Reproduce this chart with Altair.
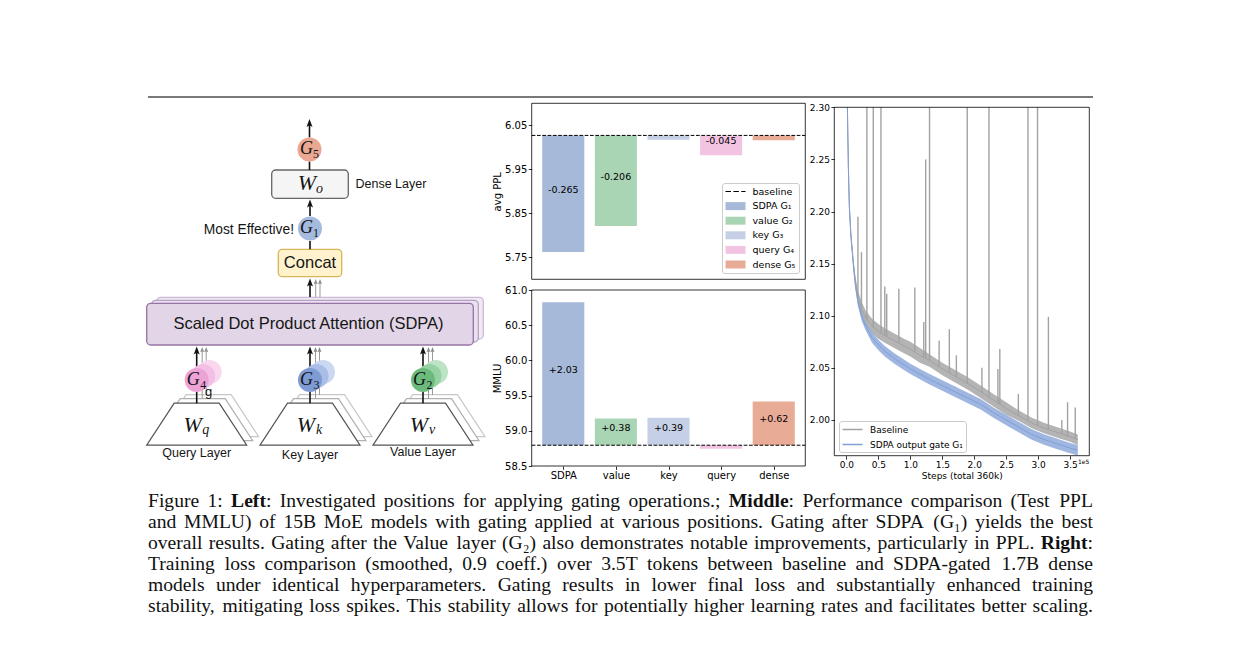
import glob
import os
import struct

import altair as alt
import pandas as pd

# =============================================================================
# Data: middle panels (test PPL / MMLU for gating positions)
# =============================================================================
positions = ["SDPA", "value", "key", "query", "dense"]
legend_names = ["baseline", "SDPA G₁", "value G₂", "key G₃", "query G₄", "dense G₅"]
bar_colors = ["#a6b9d8", "#aad5b5", "#c5cfe5", "#f3c4e2", "#e8ab96"]
bar_x_domain = [-0.6, 4.6]

ppl_baseline = 6.027
ppl_delta = [-0.265, -0.206, -0.010, -0.045, -0.011]
ppl_text = ["-0.265", "-0.206", "", "-0.045", ""]
ppl_ticks = [5.75, 5.85, 5.95, 6.05]
ppl_domain = [5.70, 6.10]

mmlu_baseline = 58.795
mmlu_delta = [2.03, 0.38, 0.39, -0.05, 0.62]
mmlu_text = ["+2.03", "+0.38", "+0.39", "", "+0.62"]
mmlu_ticks = [58.5, 59.0, 59.5, 60.0, 60.5, 61.0]
mmlu_domain = [58.5, 61.0]

# =============================================================================
# Data: right panel (training loss, steps in units of 1e5)
# =============================================================================
series_names = ["Baseline", "SDPA output gate G₁"]
series_colors = ["#a2a2a2", "#819fd6"]
loss_x_domain = [-0.19, 3.80]
loss_y_domain = [1.9657, 2.30]
step_ticks = [0.0, 0.5, 1.0, 1.5, 2.0, 2.5, 3.0, 3.5]
loss_ticks = [2.00, 2.05, 2.10, 2.15, 2.20, 2.25, 2.30]

loss_steps = [0.015, 0.03, 0.045, 0.07, 0.11, 0.14, 0.18, 0.24, 0.30, 0.40,
              0.50, 0.60, 0.75, 0.90, 1.00, 1.15, 1.30, 1.50, 1.70, 1.90,
              2.10, 2.30, 2.50, 2.70, 2.90, 3.10, 3.30, 3.50, 3.62]
base_mid = [2.300, 2.243, 2.206, 2.178, 2.150, 2.133, 2.118, 2.106, 2.098, 2.090,
            2.085, 2.081, 2.076, 2.071, 2.068, 2.062, 2.057, 2.049, 2.042, 2.035,
            2.027, 2.019, 2.011, 2.004, 1.997, 1.992, 1.988, 1.984, 1.981]
base_hi = [2.302, 2.246, 2.209, 2.181, 2.154, 2.138, 2.124, 2.113, 2.105, 2.097,
           2.092, 2.088, 2.083, 2.078, 2.075, 2.069, 2.063, 2.055, 2.048, 2.041,
           2.033, 2.025, 2.017, 2.009, 2.002, 1.997, 1.993, 1.989, 1.986]
base_lo = [2.298, 2.240, 2.203, 2.175, 2.146, 2.128, 2.112, 2.099, 2.091, 2.083,
           2.078, 2.074, 2.069, 2.064, 2.061, 2.055, 2.051, 2.043, 2.036, 2.029,
           2.021, 2.013, 2.005, 1.999, 1.992, 1.987, 1.983, 1.979, 1.976]
gate_mid = [2.300, 2.243, 2.205, 2.176, 2.147, 2.129, 2.113, 2.099, 2.090, 2.079,
            2.072, 2.066, 2.059, 2.053, 2.049, 2.044, 2.039, 2.033, 2.027, 2.021,
            2.015, 2.007, 2.000, 1.993, 1.986, 1.981, 1.977, 1.973, 1.971]
gate_hi = [2.302, 2.246, 2.208, 2.179, 2.150, 2.132, 2.117, 2.103, 2.094, 2.084,
           2.077, 2.071, 2.064, 2.058, 2.054, 2.049, 2.044, 2.038, 2.032, 2.026,
           2.020, 2.012, 2.005, 1.998, 1.991, 1.986, 1.982, 1.978, 1.976]
gate_lo = [2.298, 2.240, 2.202, 2.173, 2.144, 2.126, 2.109, 2.095, 2.086, 2.074,
           2.067, 2.061, 2.054, 2.048, 2.044, 2.039, 2.034, 2.028, 2.022, 2.016,
           2.010, 2.002, 1.995, 1.988, 1.981, 1.976, 1.972, 1.968, 1.966]

spike_steps = [0.18, 0.235, 0.32, 0.42, 0.54, 0.60, 0.63, 0.82, 1.07, 1.21,
               1.24, 1.30, 1.45, 1.61, 1.72, 1.89, 2.12, 2.23, 2.37, 2.40,
               2.69, 2.84, 2.99, 3.16, 3.37, 3.46, 3.58]
spike_base = [2.118, 2.107, 2.096, 2.089, 2.083, 2.081, 2.080, 2.074, 2.065, 2.060,
              2.059, 2.057, 2.051, 2.045, 2.041, 2.035, 2.026, 2.022, 2.016, 2.015,
              2.004, 1.999, 1.995, 1.991, 1.987, 1.984, 1.982]
spike_peak = [2.195, 2.161, 2.35, 2.35, 2.35, 2.128, 2.121, 2.126, 2.127, 2.094,
              2.250, 2.35, 2.076, 2.087, 2.062, 2.35, 2.050, 2.35, 2.049, 2.068,
              2.025, 2.35, 2.35, 2.099, 2.000, 2.017, 2.012]

# =============================================================================
# Left schematic (drawing coordinates = page pixels of the figure)
# =============================================================================
col_x = [196.7, 310.0, 423.0]
col_gate_sub = ["4", "3", "2"]
col_w_sub = ["q", "k", "v"]
col_layer_name = ["Query Layer", "Key Layer", "Value Layer"]
col_layer_y = [452.5, 454.5, 452.0]
col_fill = ["#eea3d7", "#7f9bd3", "#6cba7c"]
col_ghost_fill = [["#f9d7ee", "#f3bfe4"], ["#cbd8f1", "#a9bde6"], ["#bce4c4", "#95d1a2"]]

# =============================================================================
# Caption text
# =============================================================================
caption_lines = [
    "Figure 1: **Left**: Investigated positions for applying gating operations.; **Middle**: Performance comparison (Test PPL",
    "and MMLU) of 15B MoE models with gating applied at various positions. Gating after SDPA (G₁) yields the best",
    "overall results. Gating after the Value layer (G₂) also demonstrates notable improvements, particularly in PPL. **Right**:",
    "Training loss comparison (smoothed, 0.9 coeff.)  over 3.5T tokens between baseline and SDPA-gated 1.7B dense",
    "models under identical hyperparameters. Gating results in lower final loss and substantially enhanced training",
    "stability, mitigating loss spikes. This stability allows for potentially higher learning rates and facilitates better scaling.",
]

# =============================================================================
# Layout
# =============================================================================
M = 8
CW, CH = 1225, 632
PPL_BOX = (531.7, 103.3, 805.3, 279.3)
MMLU_BOX = (531.7, 290.0, 805.3, 466.0)
LOSS_BOX = (834.3, 107.3, 1089.3, 455.7)


def xs(domain, box, **kw):
    return alt.Scale(domain=domain, range=[box[0] - M, box[2] - M], nice=False, zero=False, **kw)


def ys(domain, box, **kw):
    return alt.Scale(domain=domain, range=[box[3] - M, box[1] - M], nice=False, zero=False, **kw)


DXS = alt.Scale(domain=[M, M + CW], range=[0, CW], nice=False, zero=False)
DYS = alt.Scale(domain=[M, M + CH], range=[0, CH], nice=False, zero=False)


def dx(f):
    return alt.X(f, type="quantitative", scale=DXS, axis=None)


def dy(f):
    return alt.Y(f, type="quantitative", scale=DYS, axis=None)


AX = dict(domain=False, grid=False, tickSize=3.4, tickWidth=0.8, tickColor="black",
          labelColor="black", labelFont="DejaVu Sans", labelPadding=1.5,
          labelFlush=False, labelOverlap=False, titleFont="DejaVu Sans",
          titleFontWeight="normal", titleColor="black")

units = []

# ---------------------------------------------------------------- top rule
units.append(
    alt.Chart(pd.DataFrame({"x0": [148.0], "x1": [1093.0], "y": [97.0]}))
    .mark_rule(color="#4d4d4d", strokeWidth=1.6)
    .encode(x=dx("x0"), x2="x1:Q", y=dy("y"))
)

# ---------------------------------------------------------------- schematic
boxes = pd.DataFrame({
    "x0": [156.7, 151.7, 146.7, 271.7, 278.3],
    "y0": [297.3, 300.3, 303.3, 170.0, 249.3],
    "x1": [483.3, 478.3, 473.3, 348.3, 341.7],
    "y1": [339.0, 342.0, 345.0, 198.3, 276.7],
    "fill": ["#f1eaf5", "#e9e0f0", "#e1d5e7", "#f5f5f5", "#fff2cc"],
    "stroke": ["#cbb9d6", "#b7a1c6", "#9673a6", "#666666", "#d6b656"],
})
units.append(
    alt.Chart(boxes).mark_rect(cornerRadius=4, strokeWidth=1.3)
    .encode(x=dx("x0"), x2="x1:Q", y=dy("y0"), y2="y1:Q",
            fill=alt.Fill("fill:N", scale=None), stroke=alt.Stroke("stroke:N", scale=None))
)

TRAP = "M-1,0.42L1,0.42L0.45,-0.42L-0.45,-0.42Z"
trap_rows = []
for (ox, oy, stc) in [(12.0, -8.5, "#c8c8c8"), (6.0, -4.5, "#b0b0b0"), (0.0, 0.0, "#555555")]:
    for c in col_x:
        trap_rows.append({"x": c + ox, "y": 424.2 + oy, "stroke": stc})
units.append(
    alt.Chart(pd.DataFrame(trap_rows))
    .mark_point(shape=TRAP, filled=True, fill="white", size=10000, opacity=1, strokeWidth=1.2)
    .encode(x=dx("x"), y=dy("y"), stroke=alt.Stroke("stroke:N", scale=None))
)

seg_rows = []
for c in col_x:
    for ox, ytop in [(5.5, 399.0), (9.5, 395.0)]:
        seg_rows.append({"x0": c + ox, "y0": ytop, "x1": c + ox, "y1": 351.0, "c": "#9a9a9a", "w": 1.0})
for ox in [5.7, 10.0]:
    seg_rows.append({"x0": 310.0 + ox, "y0": 297.0, "x1": 310.0 + ox, "y1": 283.0, "c": "#9a9a9a", "w": 1.0})
for c in col_x:
    seg_rows.append({"x0": c, "y0": 403.3, "x1": c, "y1": 392.0, "c": "#111111", "w": 1.6})
    seg_rows.append({"x0": c, "y0": 368.0, "x1": c, "y1": 351.0, "c": "#111111", "w": 1.6})
for (xa, ya, yb) in [(309.5, 137.5, 124.0), (309.5, 161.5, 170.0), (310.0, 216.0, 204.0),
                     (310.0, 241.0, 249.3), (310.0, 297.0, 283.0)]:
    seg_rows.append({"x0": xa, "y0": ya, "x1": xa, "y1": yb, "c": "#111111", "w": 1.6})
units.append(
    alt.Chart(pd.DataFrame(seg_rows)).mark_rule()
    .encode(x=dx("x0"), x2="x1:Q", y=dy("y0"), y2="y1:Q",
            color=alt.Color("c:N", scale=None), strokeWidth=alt.StrokeWidth("w:Q", scale=None))
)

circ_rows = []
for c, gf in zip(col_x, col_ghost_fill):
    circ_rows.append({"x": c + 13.0, "y": 372.0, "f": gf[0]})
    circ_rows.append({"x": c + 6.5, "y": 376.0, "f": gf[1]})
for c, f in zip(col_x, col_fill):
    circ_rows.append({"x": c, "y": 380.0, "f": f})
circ_rows.append({"x": 309.5, "y": 149.5, "f": "#eaa892"})
circ_rows.append({"x": 310.0, "y": 228.5, "f": "#a5badf"})
units.append(
    alt.Chart(pd.DataFrame(circ_rows)).mark_point(shape="circle", filled=True, opacity=1, size=576)
    .encode(x=dx("x"), y=dy("y"), color=alt.Color("f:N", scale=None))
)

ARROW = "M0,0L0.6,1.6L0,1.25L-0.6,1.6Z"
arrow_rows = [{"x": 309.5, "y": 119.0, "c": "#111111", "s": 100},
              {"x": 310.0, "y": 199.5, "c": "#111111", "s": 100},
              {"x": 310.0, "y": 278.5, "c": "#111111", "s": 100},
              {"x": 315.7, "y": 279.0, "c": "#8a8a8a", "s": 45},
              {"x": 320.0, "y": 279.0, "c": "#8a8a8a", "s": 45}]
for c in col_x:
    arrow_rows.append({"x": c, "y": 346.5, "c": "#111111", "s": 100})
    arrow_rows.append({"x": c + 5.5, "y": 347.0, "c": "#8a8a8a", "s": 45})
    arrow_rows.append({"x": c + 9.5, "y": 347.0, "c": "#8a8a8a", "s": 45})
units.append(
    alt.Chart(pd.DataFrame(arrow_rows)).mark_point(shape=ARROW, filled=True, opacity=1)
    .encode(x=dx("x"), y=dy("y"), color=alt.Color("c:N", scale=None), size=alt.Size("s:Q", scale=None))
)

sans_center = [
    {"x": 310.0, "y": 263.0, "t": "Concat", "s": 16.5},
    {"x": 308.5, "y": 324.0, "t": "Scaled Dot Product Attention (SDPA)", "s": 16.5},
    {"x": 208.5, "y": 391.5, "t": "g", "s": 13.0},
]
for c, name, yy in zip(col_x, col_layer_name, col_layer_y):
    sans_center.append({"x": c, "y": yy, "t": name, "s": 12.5})


def text_unit(rows, align, font="Liberation Sans", style="normal"):
    return (alt.Chart(pd.DataFrame(rows))
            .mark_text(align=align, baseline="middle", font=font, fontStyle=style, color="#151515")
            .encode(x=dx("x"), y=dy("y"), text="t:N", size=alt.Size("s:Q", scale=None)))


units.append(text_unit(sans_center, "center"))
units.append(text_unit([{"x": 355.5, "y": 184.0, "t": "Dense Layer", "s": 12.5}], "left"))
units.append(text_unit([{"x": 294.0, "y": 229.5, "t": "Most Effective!", "s": 13.8}], "right"))

math_main = [{"x": 306.5, "y": 149.0, "t": "G", "s": 18.0},
             {"x": 306.5, "y": 228.0, "t": "G", "s": 18.0},
             {"x": 307.0, "y": 182.5, "t": "W", "s": 22.0}]
math_sub_digit = [{"x": 316.0, "y": 154.0, "t": "5", "s": 12.0},
                  {"x": 316.0, "y": 233.0, "t": "1", "s": 12.0}]
math_sub_letter = [{"x": 319.5, "y": 188.5, "t": "o", "s": 14.0}]
for c, g, w in zip(col_x, col_gate_sub, col_w_sub):
    math_main.append({"x": c - 3.5, "y": 379.5, "t": "G", "s": 18.0})
    math_sub_digit.append({"x": c + 6.5, "y": 384.5, "t": g, "s": 12.0})
    math_main.append({"x": c - 4.0, "y": 424.5, "t": "W", "s": 22.0})
    math_sub_letter.append({"x": c + 9.0, "y": 430.0, "t": w, "s": 14.0})
units.append(text_unit(math_main, "center", font="Liberation Serif", style="italic"))
units.append(text_unit(math_sub_digit, "center", font="Liberation Serif"))
units.append(text_unit(math_sub_letter, "center", font="Liberation Serif", style="italic"))

# ---------------------------------------------------------------- caption
TIMES = {" ": 250, "!": 333, "(": 333, ")": 333, ",": 250, "-": 333, ".": 250, ":": 278, ";": 278}
TIMES.update({d: 500 for d in "0123456789"})
TIMES.update(dict(zip("ABCDEFGHIJKLMNOPQRSTUVWXYZ",
                      [722, 667, 667, 722, 611, 556, 722, 722, 333, 389, 722, 611, 889,
                       722, 722, 556, 722, 667, 556, 611, 722, 722, 944, 722, 722, 611])))
TIMES.update(dict(zip("abcdefghijklmnopqrstuvwxyz",
                      [444, 500, 444, 500, 444, 333, 500, 500, 278, 278, 500, 278, 778,
                       500, 500, 500, 500, 333, 389, 278, 500, 500, 722, 500, 500, 444])))


def find_font(name):
    pats = ["/usr/share/fonts/**/" + name, "/usr/local/share/fonts/**/" + name,
            os.path.expanduser("~/.fonts/**/" + name), os.path.expanduser("~/.local/share/fonts/**/" + name)]
    for p in pats:
        hits = glob.glob(p, recursive=True)
        if hits:
            return hits[0]
    return None


def ttf_measure(path):
    with open(path, "rb") as fh:
        data = fh.read()
    n_tab = struct.unpack(">H", data[4:6])[0]
    tabs = {}
    for k in range(n_tab):
        rec = data[12 + 16 * k: 28 + 16 * k]
        tabs[rec[:4].decode("latin-1")] = struct.unpack(">I", rec[8:12])[0]
    upem = struct.unpack(">H", data[tabs["head"] + 18: tabs["head"] + 20])[0]
    n_hm = struct.unpack(">H", data[tabs["hhea"] + 34: tabs["hhea"] + 36])[0]
    hm = tabs["hmtx"]
    adv = [struct.unpack(">H", data[hm + 4 * g: hm + 4 * g + 2])[0] for g in range(n_hm)]
    cm = tabs["cmap"]
    n_sub = struct.unpack(">H", data[cm + 2: cm + 4])[0]
    sub = None
    for k in range(n_sub):
        pid, eid, off = struct.unpack(">HHI", data[cm + 4 + 8 * k: cm + 12 + 8 * k])
        fmt = struct.unpack(">H", data[cm + off: cm + off + 2])[0]
        if fmt == 4 and (sub is None or (pid, eid) == (3, 1)):
            sub = cm + off
    seg2 = struct.unpack(">H", data[sub + 6: sub + 8])[0]
    ns = seg2 // 2
    ends = struct.unpack(">%dH" % ns, data[sub + 14: sub + 14 + seg2])
    starts = struct.unpack(">%dH" % ns, data[sub + 16 + seg2: sub + 16 + 2 * seg2])
    deltas = struct.unpack(">%dh" % ns, data[sub + 16 + 2 * seg2: sub + 16 + 3 * seg2])
    rbase = sub + 16 + 3 * seg2
    ros = struct.unpack(">%dH" % ns, data[rbase: rbase + seg2])

    def glyph(cp):
        for k in range(ns):
            if ends[k] >= cp:
                if starts[k] > cp:
                    return 0
                if ros[k] == 0:
                    return (cp + deltas[k]) & 0xFFFF
                addr = rbase + 2 * k + ros[k] + 2 * (cp - starts[k])
                g = struct.unpack(">H", data[addr: addr + 2])[0]
                return (g + deltas[k]) & 0xFFFF if g else 0
        return 0

    def width(s):
        tot = 0.0
        for ch in s:
            g = glyph(ord(ch))
            tot += 0.45 * upem if g == 0 else adv[min(g, n_hm - 1)]
        return tot / upem
    return width


def make_measure(fname, bold):
    path = find_font(fname)
    if path:
        try:
            return ttf_measure(path)
        except Exception:
            pass
    k = 1.04 if bold else 1.0
    return lambda s: sum(TIMES.get(ch, 450) for ch in s) * k / 1000.0


meas = {False: make_measure("LiberationSerif-Regular.ttf", False),
        True: make_measure("LiberationSerif-Bold.ttf", True)}

CAP_L, CAP_R = 148.0, 1093.0
CAP_BASE, CAP_LEAD = 507.0, 21.0
parsed = []
for line in caption_lines:
    toks = []
    for tok in line.split():
        parts = tok.split("**")
        toks.append([(p, k % 2 == 1) for k, p in enumerate(parts) if p])
    parsed.append(toks)


def natural(toks):
    return (sum(meas[b](p) for t in toks for (p, b) in t) + (len(toks) - 1) * meas[False](" "))


cap_fs = min(19.6, min((CAP_R - CAP_L) * 0.995 / natural(t) for t in parsed))
cap_rows = []
for li, toks in enumerate(parsed):
    words_w = sum(meas[b](p) for t in toks for (p, b) in t) * cap_fs
    gap = (CAP_R - CAP_L - words_w) / (len(toks) - 1)
    xcur = CAP_L
    for t in toks:
        for (p, b) in t:
            cap_rows.append({"x": xcur, "y": CAP_BASE + CAP_LEAD * li, "t": p, "bold": b})
            xcur += meas[b](p) * cap_fs
        xcur += gap
cap_df = pd.DataFrame(cap_rows)
for is_bold in (False, True):
    units.append(
        alt.Chart(cap_df[cap_df["bold"] == is_bold])
        .mark_text(align="left", baseline="alphabetic", font="Liberation Serif", fontSize=cap_fs,
                   fontWeight="bold" if is_bold else "normal", color="#111111")
        .encode(x=dx("x"), y=dy("y"), text="t:N")
    )


# ---------------------------------------------------------------- bar panels
def bar_panel(delta, texts, baseline, ydom, box, yticks, yfmt, ytitle, with_x):
    XS = xs(bar_x_domain, box)
    YS = ys(ydom, box)
    df = pd.DataFrame({"i": list(range(len(positions))), "pos": positions, "delta": delta,
                       "txt": texts, "fill": bar_colors, "base": baseline})
    out = []
    out.append(
        alt.Chart(df).transform_calculate(xl="datum.i - 0.4", xr="datum.i + 0.4",
                                          yt="datum.base + datum.delta")
        .mark_rect()
        .encode(x=alt.X("xl:Q", scale=XS, axis=None), x2="xr:Q",
                y=alt.Y("base:Q", scale=YS, axis=None), y2="yt:Q",
                fill=alt.Fill("fill:N", scale=None))
    )
    out.append(
        alt.Chart(pd.DataFrame({"x0": [bar_x_domain[0]], "x1": [bar_x_domain[1]], "y": [baseline]}))
        .mark_rule(color="black", strokeDash=[3.7, 1.6], strokeWidth=1.0)
        .encode(x=alt.X("x0:Q", scale=XS, axis=None), x2="x1:Q", y=alt.Y("y:Q", scale=YS, axis=None))
    )
    out.append(
        alt.Chart(df).transform_filter("datum.txt != ''")
        .transform_calculate(ym="datum.base + datum.delta / 2")
        .mark_text(font="DejaVu Sans", fontSize=9.5, color="black", baseline="middle", dy=-4)
        .encode(x=alt.X("i:Q", scale=XS, axis=None), y=alt.Y("ym:Q", scale=YS, axis=None), text="txt:N")
    )
    yaxis = alt.Axis(orient="left", offset=-(box[0] - M), values=yticks, format=yfmt,
                     title=ytitle, labelFontSize=10, titleFontSize=10, titlePadding=2, **AX)
    if with_x:
        expr = "[" + ",".join("'%s'" % p for p in positions) + "][round(datum.value)]"
        xaxis = alt.Axis(orient="bottom", offset=(box[3] - M) - CH, values=list(range(len(positions))),
                         labelExpr=expr, title=None, labelFontSize=10, **AX)
    else:
        xaxis = None
    out.append(
        alt.Chart(pd.DataFrame({"x0": [bar_x_domain[0]], "x1": [bar_x_domain[1]],
                                "y0": [ydom[0]], "y1": [ydom[1]]}))
        .mark_rect(filled=False, color="black", strokeWidth=0.8)
        .encode(x=alt.X("x0:Q", scale=XS, axis=xaxis), x2="x1:Q",
                y=alt.Y("y0:Q", scale=YS, axis=yaxis), y2="y1:Q")
    )
    return out


units += bar_panel(ppl_delta, ppl_text, ppl_baseline, ppl_domain, PPL_BOX, ppl_ticks, ".2f", "avg PPL", False)
units += bar_panel(mmlu_delta, mmlu_text, mmlu_baseline, mmlu_domain, MMLU_BOX, mmlu_ticks, ".1f", "MMLU", True)

RECT_SYM = "M-1,-0.8H3V0.8H-1Z"
DASH_SYM = "M-1,-0.12H0.1V0.12H-1Z M0.58,-0.12H1.68V0.12H0.58Z M2.16,-0.12H3V0.12H2.16Z"
top_legend = alt.Legend(title=None, orient="none", legendX=714, legendY=175, symbolSize=100,
                        symbolStrokeWidth=0, symbolOpacity=1, labelFont="DejaVu Sans",
                        labelFontSize=9.5, labelColor="black", labelOffset=17, rowPadding=4.6,
                        padding=3.5, strokeColor="#cccccc", fillColor="white", cornerRadius=2.5)
units.append(
    alt.Chart(alt.Data(values=[])).mark_point(filled=True, opacity=1)
    .encode(color=alt.Color("leg:N", scale=alt.Scale(domain=legend_names, range=["black"] + bar_colors),
                            legend=top_legend),
            shape=alt.Shape("leg:N", scale=alt.Scale(domain=legend_names, range=[DASH_SYM] + [RECT_SYM] * 5),
                            legend=top_legend))
)

# ---------------------------------------------------------------- loss panel
XR = xs(loss_x_domain, LOSS_BOX)
YR = ys(loss_y_domain, LOSS_BOX, clamp=True)
loss_df = pd.DataFrame({"step": loss_steps, "base_mid": base_mid, "base_lo": base_lo, "base_hi": base_hi,
                        "gate_mid": gate_mid, "gate_lo": gate_lo, "gate_hi": gate_hi})
spike_df = pd.DataFrame({"step": spike_steps, "base": spike_base, "peak": spike_peak})
long_base = pd.DataFrame({"step": loss_steps, "loss": base_mid, "series": series_names[0]})
long_gate = pd.DataFrame({"step": loss_steps, "loss": gate_mid, "series": series_names[1]})
series_scale = alt.Scale(domain=series_names, range=series_colors)
loss_legend = alt.Legend(title=None, orient="none", legendX=831, legendY=413, symbolType="M-1,0H3",
                         symbolSize=100, symbolStrokeWidth=1.5, symbolOpacity=1, labelFont="DejaVu Sans",
                         labelFontSize=9, labelColor="black", labelOffset=16.6, rowPadding=4,
                         padding=2.5, strokeColor="#cccccc", fillColor="white", cornerRadius=2.5)

units.append(alt.Chart(loss_df).mark_area(color="#acacac", opacity=0.9)
             .encode(x=alt.X("step:Q", scale=XR, axis=None), y=alt.Y("base_lo:Q", scale=YR, axis=None),
                     y2="base_hi:Q"))
units.append(alt.Chart(spike_df).mark_rule(color="#a2a2a2", strokeWidth=1.4)
             .encode(x=alt.X("step:Q", scale=XR, axis=None), y=alt.Y("base:Q", scale=YR, axis=None),
                     y2="peak:Q"))
units.append(alt.Chart(long_base).mark_line(strokeWidth=1.0)
             .encode(x=alt.X("step:Q", scale=XR, axis=None), y=alt.Y("loss:Q", scale=YR, axis=None),
                     color=alt.Color("series:N", scale=series_scale, legend=None)))
units.append(alt.Chart(loss_df).mark_area(color="#8ea9dc", opacity=0.85)
             .encode(x=alt.X("step:Q", scale=XR, axis=None), y=alt.Y("gate_lo:Q", scale=YR, axis=None),
                     y2="gate_hi:Q"))
units.append(alt.Chart(long_gate).mark_line(strokeWidth=1.0)
             .encode(x=alt.X("step:Q", scale=XR, axis=None), y=alt.Y("loss:Q", scale=YR, axis=None),
                     color=alt.Color("series:N", scale=series_scale, legend=loss_legend)))

loss_xaxis = alt.Axis(orient="bottom", offset=(LOSS_BOX[3] - M) - CH, values=step_ticks, format=".1f",
                      title="Steps (total 360k)", labelFontSize=9, titleFontSize=9, titlePadding=1.5, **AX)
loss_yaxis = alt.Axis(orient="left", offset=-(LOSS_BOX[0] - M), values=loss_ticks, format=".2f",
                      title=None, labelFontSize=9, **AX)
units.append(
    alt.Chart(pd.DataFrame({"x0": [loss_x_domain[0]], "x1": [loss_x_domain[1]],
                            "y0": [loss_y_domain[0]], "y1": [loss_y_domain[1]]}))
    .mark_rect(filled=False, color="black", strokeWidth=0.8)
    .encode(x=alt.X("x0:Q", scale=XR, axis=loss_xaxis), x2="x1:Q",
            y=alt.Y("y0:Q", scale=YR, axis=loss_yaxis), y2="y1:Q")
)
units.append(
    alt.Chart(pd.DataFrame({"x": [loss_x_domain[1]], "y": [loss_y_domain[0]], "t": ["1e5"]}))
    .mark_text(align="right", baseline="top", dx=0, dy=3, fontSize=6, font="DejaVu Sans", color="black")
    .encode(x=alt.X("x:Q", scale=XR, axis=None), y=alt.Y("y:Q", scale=YR, axis=None), text="t:N")
)

chart = (
    alt.layer(*units)
    .resolve_scale(x="independent", y="independent", color="independent", shape="independent")
    .properties(width=CW, height=CH, autosize=alt.AutoSizeParams(type="none"), padding=0, background="white")
    .configure_view(stroke="transparent")
)
chart.save("out.html", embed_options={"renderer": "svg", "actions": False})
